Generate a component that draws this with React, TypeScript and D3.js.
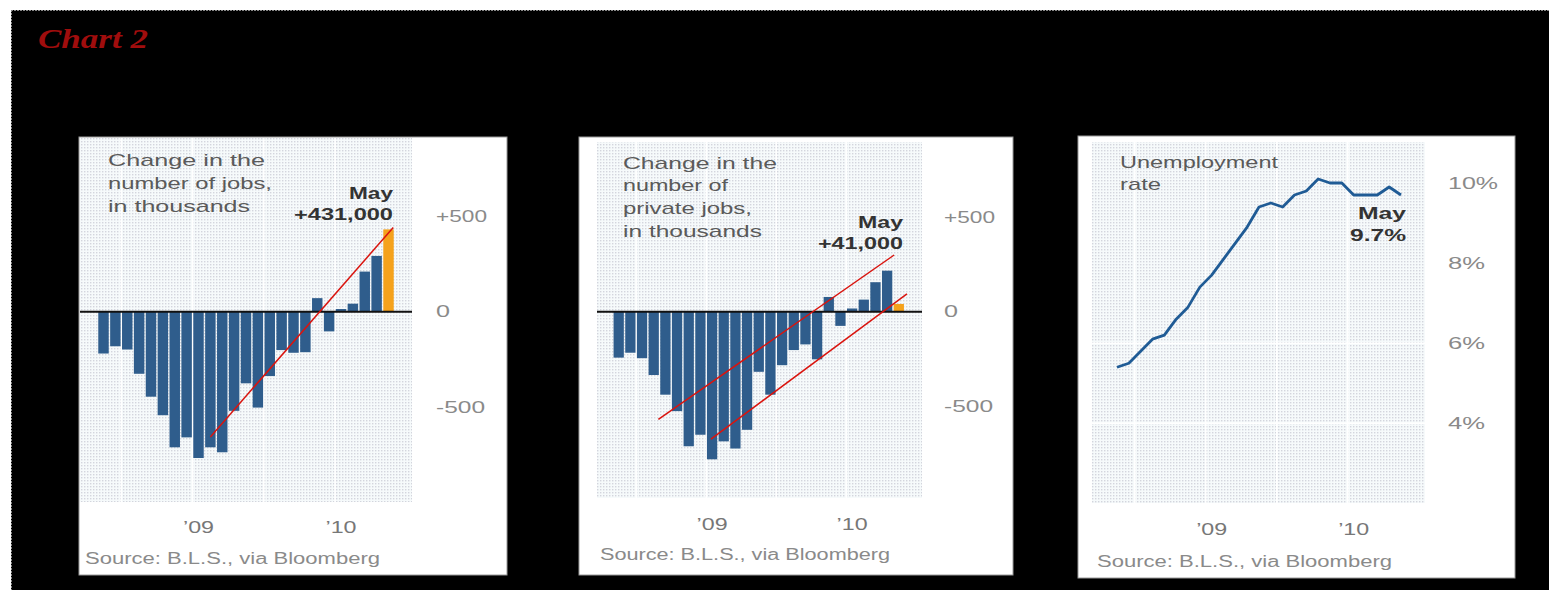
import React from "react";
import * as d3 from "d3";

// months shown on every panel, May 2008 .. May 2010
const months = [
  "May 08", "Jun 08", "Jul 08", "Aug 08", "Sep 08", "Oct 08", "Nov 08", "Dec 08",
  "Jan 09", "Feb 09", "Mar 09", "Apr 09", "May 09", "Jun 09", "Jul 09", "Aug 09",
  "Sep 09", "Oct 09", "Nov 09", "Dec 09", "Jan 10", "Feb 10", "Mar 10", "Apr 10", "May 10",
];

// change in jobs, thousands
const jobsChange = [
  -219, -181, -198, -325, -445, -542, -710, -658, -766, -710, -736, -519, -375,
  -502, -337, -201, -215, -212, 71, -103, 14, 42, 210, 292, 431,
];

// change in private jobs, thousands
const privateJobsChange = [
  -243, -217, -246, -335, -439, -526, -712, -651, -781, -686, -724, -625, -318,
  -439, -283, -203, -173, -252, 78, -75, 17, 64, 156, 217, 41,
];

// unemployment rate, percent
const unemploymentRate = [
  5.4, 5.5, 5.8, 6.1, 6.2, 6.6, 6.9, 7.4, 7.7, 8.1, 8.5, 8.9, 9.4,
  9.5, 9.4, 9.7, 9.8, 10.1, 10.0, 10.0, 9.7, 9.7, 9.7, 9.9, 9.7,
];

// hand drawn red trend lines: [month index, value]
const jobsTrend: [number, number][] = [[9, -656], [24.4, 441]];
const privateTrendUpper: [number, number][] = [[3.4, -570], [23.6, 300]];
const privateTrendLower: [number, number][] = [[7.9, -674], [24.7, 94]];

const yearTicks = [8, 20];
const yearTickLabels = ["\u201909", "\u201910"];
const gridMonths = [2, 8, 14, 20];
const jobTicks = [500, 0, -500];
const jobTickLabels = ["+500", "0", "-500"];
const rateTicks = [10, 8, 6, 4];
const rateTickLabels = ["10%", "8%", "6%", "4%"];

const SANS = "'Liberation Sans', Arial, sans-serif";

const T = ({ x, y, w, size = 17, fill = "#555", anchor = "start", weight = "normal", children }: any) => (
  <text
    x={x}
    y={y}
    textLength={w}
    lengthAdjust="spacingAndGlyphs"
    fontFamily={SANS}
    fontSize={size}
    fill={fill}
    fontWeight={weight}
    textAnchor={anchor}
    dominantBaseline="central"
  >
    {children}
  </text>
);

const Frame = ({ g, children }: any) => (
  <g>
    <rect x={g.box[0]} y={g.box[1]} width={g.box[2]} height={g.box[3]} fill="#fff" stroke="#999" strokeWidth={1} />
    <rect x={g.plot[0]} y={g.plot[1]} width={g.plot[2] - g.plot[0]} height={g.plot[3] - g.plot[1]} fill="url(#dots)" />
    {children}
  </g>
);

const BarPanel = ({ g, values, trends, title, titleW, may, mayW, source }: any) => {
  const x = d3.scaleLinear().domain([0, months.length - 1]).range([g.first, g.last]);
  const step = x(1) - x(0);
  const bw = step * 0.88;
  const y = d3.scaleLinear().domain([-500, 500]).range([g.zero + g.per500, g.zero - g.per500]);
  const line = d3.line<[number, number]>().x((d) => x(d[0])).y((d) => y(d[1]));
  const n = values.length;
  return (
    <Frame g={g}>
      {gridMonths.map((m) => (
        <line key={m} x1={x(m) - step / 2} x2={x(m) - step / 2} y1={g.plot[1]} y2={g.plot[3]} stroke="#fff" strokeWidth={1.5} />
      ))}
      {values.map((v: number, i: number) => (
        <rect
          key={i}
          x={x(i) - bw / 2}
          y={y(Math.max(0, v))}
          width={bw}
          height={Math.abs(y(v) - y(0))}
          fill={i === n - 1 ? "#f5a21c" : "#2f5d8c"}
        />
      ))}
      <line x1={g.plot[0]} x2={g.plot[2]} y1={y(0)} y2={y(0)} stroke="#111" strokeWidth={2} />
      {trends.map((t: any, k: number) => (
        <path key={k} d={line(t) || ""} fill="none" stroke="#d9140e" strokeWidth={1.5} />
      ))}
      {jobTicks.map((t, i) => (
        <T key={t} x={g.labelX} y={y(t)} w={[51, 14, 49][i]} fill="#8a8a8a">{jobTickLabels[i]}</T>
      ))}
      {yearTicks.map((m, i) => (
        <T key={m} x={x(m)} y={g.xLabelY} w={31} anchor="middle" fill="#777">{yearTickLabels[i]}</T>
      ))}
      {title.map((s: string, i: number) => (
        <T key={i} x={g.titleX} y={g.titleY + i * 22.7} w={titleW[i]} fill="#5a5a5a">{s}</T>
      ))}
      <T x={g.mayX} y={g.mayY} w={mayW[0]} anchor="end" weight="bold" fill="#333">May</T>
      <T x={g.mayX} y={g.mayY + 21} w={mayW[1]} anchor="end" weight="bold" fill="#333">{may}</T>
      <T x={g.sourceX} y={g.sourceY} w={source} size={16} fill="#8a8a8a">Source: B.L.S., via Bloomberg</T>
    </Frame>
  );
};

const RatePanel = ({ g }: any) => {
  const x = d3.scaleLinear().domain([0, months.length - 1]).range([g.first, g.last]);
  const step = x(1) - x(0);
  const y = d3.scaleLinear().domain([4, 10]).range([g.y4, g.y10]);
  const line = d3.line<number>().x((_, i) => x(i)).y((d) => y(d));
  return (
    <Frame g={g}>
      {gridMonths.map((m) => (
        <line key={m} x1={x(m) - step / 2} x2={x(m) - step / 2} y1={g.plot[1]} y2={g.plot[3]} stroke="#fff" strokeWidth={1.5} />
      ))}
      {[4, 6].map((t) => (
        <line key={t} x1={g.plot[0]} x2={g.plot[2]} y1={y(t)} y2={y(t)} stroke="#fff" strokeWidth={1.5} />
      ))}
      <path d={line(unemploymentRate) || ""} fill="none" stroke="#1f5b95" strokeWidth={2.8} strokeLinejoin="round" />
      {rateTicks.map((t, i) => (
        <T key={t} x={g.labelX} y={y(t)} w={i === 0 ? 50 : 37} fill="#8a8a8a">{rateTickLabels[i]}</T>
      ))}
      {yearTicks.map((m, i) => (
        <T key={m} x={x(m)} y={g.xLabelY} w={31} anchor="middle" fill="#777">{yearTickLabels[i]}</T>
      ))}
      <T x={g.titleX} y={g.titleY} w={158} fill="#5a5a5a">Unemployment</T>
      <T x={g.titleX} y={g.titleY + 22.5} w={41} fill="#5a5a5a">rate</T>
      <T x={g.mayX} y={g.mayY} w={48} anchor="end" weight="bold" fill="#333">May</T>
      <T x={g.mayX} y={g.mayY + 22} w={56} anchor="end" weight="bold" fill="#333">9.7%</T>
      <T x={g.sourceX} y={g.sourceY} w={295} size={16} fill="#8a8a8a">Source: B.L.S., via Bloomberg</T>
    </Frame>
  );
};

const panel1 = {
  box: [79, 137, 428, 438], plot: [80, 138, 412, 502],
  first: 103.5, last: 388.5, zero: 311.7, per500: 95.5,
  labelX: 436, xLabelY: 527, titleX: 108, titleY: 160.7,
  mayX: 393, mayY: 193, sourceX: 85, sourceY: 558,
};
const panel2 = {
  box: [579, 137, 434, 438], plot: [597, 142, 922, 498],
  first: 618.7, last: 898.8, zero: 311.7, per500: 94.5,
  labelX: 944, xLabelY: 524, titleX: 623, titleY: 163,
  mayX: 903, mayY: 222, sourceX: 600, sourceY: 554,
};
const panel3 = {
  box: [1078, 136, 437, 442], plot: [1092, 142, 1425, 503],
  first: 1117, last: 1401, y4: 423.3, y10: 183,
  labelX: 1448, xLabelY: 529, titleX: 1120, titleY: 162,
  mayX: 1406, mayY: 213, sourceX: 1097, sourceY: 561,
};

export default function App() {
  return (
    <svg width={1549} height={590} style={{ position: "absolute", left: 0, top: 0, background: "#fff" }}>
      <defs>
        <pattern id="dots" width={3} height={3} patternUnits="userSpaceOnUse">
          <rect width={3} height={3} fill="#f6fafb" />
          <rect width={1.4} height={1.4} fill="#d3d5dd" />
        </pattern>
      </defs>
      <rect x={11} y={10} width={1538} height={580} fill="#000" />
      <line x1={11} x2={1549} y1={10.5} y2={10.5} stroke="#888" strokeDasharray="2 1" />
      <line x1={11.5} x2={11.5} y1={10} y2={590} stroke="#888" strokeDasharray="2 1" />
      <text x={38} y={48} textLength={110} lengthAdjust="spacingAndGlyphs" fontFamily="'Liberation Serif', serif" fontStyle="italic" fontWeight="bold" fontSize={27} fill="#a00d0d">
        Chart 2
      </text>
      <BarPanel
        g={panel1}
        values={jobsChange}
        trends={[jobsTrend]}
        title={["Change in the", "number of jobs,", "in thousands"]}
        titleW={[157, 164, 142]}
        may="+431,000"
        mayW={[44, 99]}
        source={295}
      />
      <BarPanel
        g={panel2}
        values={privateJobsChange}
        trends={[privateTrendUpper, privateTrendLower]}
        title={["Change in the", "number of", "private jobs,", "in thousands"]}
        titleW={[154, 105, 129, 139]}
        may="+41,000"
        mayW={[45, 85]}
        source={290}
      />
      <RatePanel g={panel3} />
    </svg>
  );
}
